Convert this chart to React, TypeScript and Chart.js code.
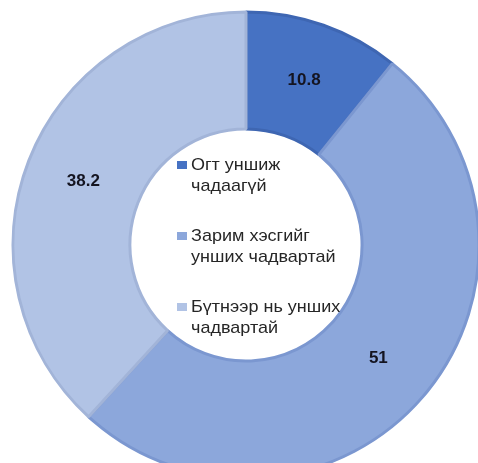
import React, { useEffect, useRef } from "react";
import { Chart, registerables } from "chart.js";

Chart.register(...registerables);

const categories: string[][] = [
  ["Огт уншиж", "чадаагүй"],
  ["Зарим хэсгийг", "унших чадвартай"],
  ["Бүтнээр нь унших", "чадвартай"],
];
const values: number[] = [10.8, 51, 38.2];
const valueLabels: string[] = ["10.8", "51", "38.2"];
const fillColors: string[] = ["#4672C3", "#8CA7DB", "#B1C3E5"];
const borderColors: string[] = ["#3E66B2", "#7B97D0", "#A2B4D8"];

const labelPlugin = {
  id: "valueLabels",
  afterDatasetsDraw(chart: any) {
    const ctx = chart.ctx;
    const meta = chart.getDatasetMeta(0);
    ctx.save();
    ctx.font = "bold 17px 'Liberation Sans', Arial, sans-serif";
    ctx.fillStyle = "#141420";
    ctx.textAlign = "center";
    ctx.textBaseline = "middle";
    meta.data.forEach((arc: any, i: number) => {
      const p = arc.tooltipPosition();
      ctx.fillText(valueLabels[i], p.x, p.y);
    });
    ctx.restore();
  },
};

export default function App() {
  const ref = useRef<HTMLCanvasElement | null>(null);
  useEffect(() => {
    if (!ref.current) return;
    const chart = new Chart(ref.current, {
      type: "doughnut",
      data: {
        labels: categories.map((c) => c.join(" ")),
        datasets: [
          {
            data: values,
            backgroundColor: fillColors,
            borderColor: borderColors,
            borderWidth: 3,
          },
        ],
      },
      options: {
        responsive: false,
        animation: false,
        cutout: "49.8%",
        layout: { padding: { left: 11.5, right: 1.5, top: 10.5, bottom: 2.5 } },
        plugins: { legend: { display: false }, tooltip: { enabled: false } },
      },
      plugins: [labelPlugin],
    });
    return () => chart.destroy();
  }, []);

  return (
    <div
      style={{
        position: "absolute",
        left: 0,
        top: 0,
        width: 478,
        height: 463,
        overflow: "hidden",
        background: "#ffffff",
      }}
    >
      <canvas ref={ref} width={482} height={482} style={{ display: "block" }} />
      {categories.map((lines, i) => (
        <div
          key={i}
          style={{
            position: "absolute",
            left: 177,
            top: 153.5 + i * 71,
            fontFamily: "'Liberation Sans', Arial, sans-serif",
            fontSize: 17,
            lineHeight: "21.5px",
            color: "#262626",
            whiteSpace: "nowrap",
          }}
        >
          <span
            style={{
              position: "absolute",
              left: 0,
              top: 7,
              width: 10,
              height: 8,
              background: fillColors[i],
            }}
          />
          <div
            style={{
              marginLeft: 14,
              transform: "scaleX(1.06)",
              transformOrigin: "left center",
            }}
          >
            {lines.map((l, j) => (
              <div key={j}>{l}</div>
            ))}
          </div>
        </div>
      ))}
    </div>
  );
}
